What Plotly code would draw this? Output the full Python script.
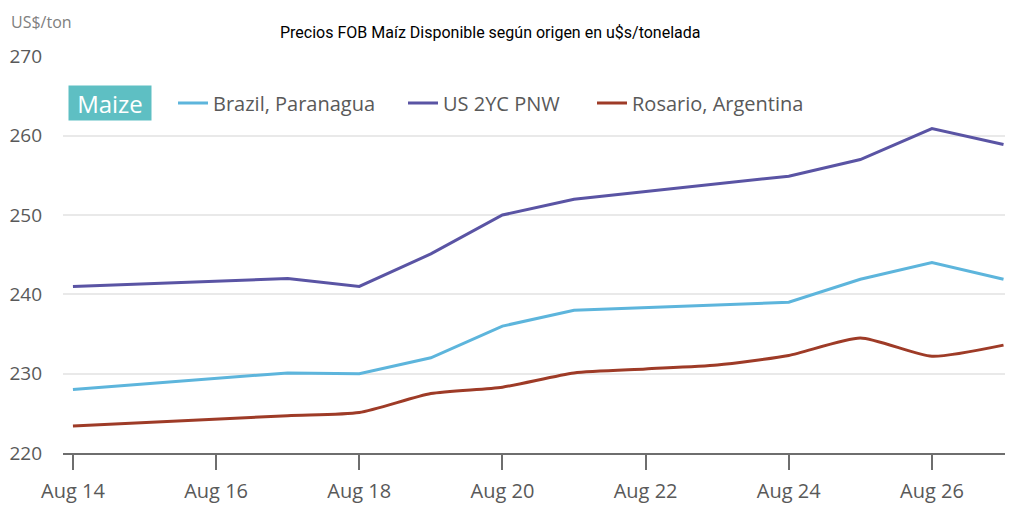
import plotly.graph_objects as go

# Data (US$/ton)
dates = ["2025-08-14", "2025-08-17", "2025-08-18", "2025-08-19", "2025-08-20",
         "2025-08-21", "2025-08-24", "2025-08-25", "2025-08-26", "2025-08-27"]
brazil = [228.0, 230.1, 230.0, 232.0, 236.0, 238.0, 239.0, 241.9, 244.0, 241.9]
us_pnw = [241.0, 242.0, 241.0, 245.1, 250.0, 252.0, 254.9, 257.0, 260.9, 258.9]

rosario_dates = ["2025-08-14", "2025-08-17", "2025-08-18", "2025-08-19", "2025-08-20",
                 "2025-08-21", "2025-08-22", "2025-08-23", "2025-08-24", "2025-08-25",
                 "2025-08-26", "2025-08-27"]
rosario = [223.4, 224.7, 225.1, 227.5, 228.3, 230.1, 230.6, 231.1, 232.3, 234.5,
           232.2, 233.6]

y_ticks = [220, 230, 240, 250, 260, 270]

# the page puts the figure 8px in from the window corner
OFF = 8
W, H = 1034 - 2 * OFF, 520 - 2 * OFF
# plot area in window pixels: x 63..1005, y 56..453
L, T = 63 - OFF, 56 - OFF
R, B = W - (1005 - OFF), H - (453 - OFF)


def px(x):
    """window pixel x -> paper x"""
    return (x - OFF - L) / (W - L - R)


def py(y):
    """window pixel y -> paper y"""
    return (H - B - (y - OFF)) / (H - T - B)


FONT = "Open Sans"
GREY = "#595959"

fig = go.Figure()

fig.add_trace(go.Scatter(
    x=dates, y=brazil, mode="lines", name="Brazil, Paranagua",
    line=dict(color="#5db5dc", width=3), legend="legend",
))
fig.add_trace(go.Scatter(
    x=dates, y=us_pnw, mode="lines", name="US 2YC PNW",
    line=dict(color="#5a54a4", width=3), legend="legend2",
))
fig.add_trace(go.Scatter(
    x=rosario_dates, y=rosario, mode="lines", name="Rosario, Argentina",
    line=dict(color="#9e3b27", width=3, shape="spline", smoothing=0.6),
    legend="legend3",
))

legend_style = dict(
    orientation="h", yanchor="middle", xanchor="left",
    font=dict(family=FONT, size=20, color=GREY),
    bgcolor="rgba(0,0,0,0)", borderwidth=0,
)

fig.update_layout(
    width=W,
    height=H,
    margin=dict(l=L, r=R, t=T, b=B),
    plot_bgcolor="white",
    paper_bgcolor="white",
    font=dict(family=FONT, color=GREY),
    showlegend=True,
    legend=dict(x=px(173), y=py(103), **legend_style),
    legend2=dict(x=px(403), y=py(103), **legend_style),
    legend3=dict(x=px(592), y=py(103), **legend_style),
    annotations=[
        dict(text="Precios FOB Maíz Disponible según origen en u$s/tonelada",
             xref="paper", yref="paper", x=px(490), y=py(33),
             xanchor="center", yanchor="middle", showarrow=False,
             font=dict(family="Roboto", size=16, color="black")),
        dict(text="US$/ton", xref="paper", yref="paper", x=px(9), y=py(9),
             xanchor="left", yanchor="top", showarrow=False,
             font=dict(family=FONT, size=16, color="#808080")),
        dict(text="Maize", xref="paper", yref="paper", x=px(68), y=py(103),
             xanchor="left", yanchor="middle", showarrow=False,
             width=76, height=28, align="center",
             bgcolor="#5ebfc3", borderpad=3,
             font=dict(family=FONT, size=24, color="white")),
    ],
    # white patches sitting over the grid in the original picture
    shapes=[
        dict(type="rect", xref="paper", yref="paper", layer="between",
             x0=px(182), x1=px(568), y0=py(155), y1=py(62),
             fillcolor="white", line=dict(width=0)),
        dict(type="rect", xref="paper", yref="paper", layer="between",
             x0=px(182), x1=px(373), y0=py(258), y1=py(150),
             fillcolor="white", line=dict(width=0)),
        dict(type="rect", xref="paper", yref="paper", layer="between",
             x0=px(335), x1=px(440), y0=py(64), y1=py(48),
             fillcolor="white", line=dict(width=0)),
    ],
)

fig.update_xaxes(
    type="date",
    range=["2025-08-13 20:40", "2025-08-27 00:30"],
    tick0="2025-08-14",
    dtick=2 * 86400000,
    tickformat="%b %d",
    ticks="outside",
    ticklen=15,
    tickwidth=1.5,
    tickcolor="#6e6e6e",
    showline=True,
    linecolor="#6e6e6e",
    linewidth=1.5,
    showgrid=False,
    automargin=False,
    ticklabelstandoff=4,
    tickfont=dict(family=FONT, size=20, color=GREY),
)

fig.update_yaxes(
    range=[220, 270.05],
    tickvals=y_ticks,
    showgrid=True,
    gridcolor="#e9e9e9",
    gridwidth=1.5,
    zeroline=False,
    showline=False,
    ticks="",
    automargin=False,
    ticklabelstandoff=20,
    tickfont=dict(family=FONT, size=19, color=GREY),
)

fig.write_html("out.html")
